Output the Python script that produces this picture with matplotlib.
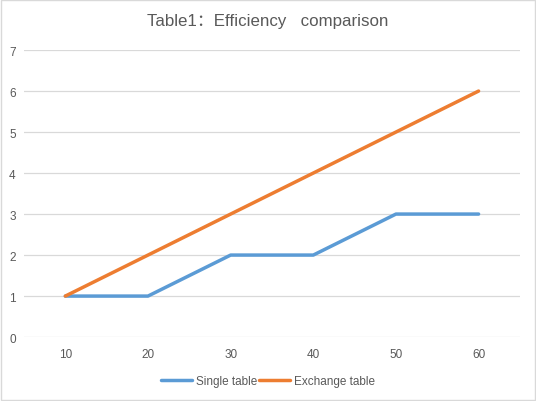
import numpy as np
import matplotlib.pyplot as plt
from matplotlib.patches import Rectangle

plt.rcParams["font.family"] = ["Liberation Sans", "Noto Sans CJK SC", "DejaVu Sans"]

categories = ["10", "20", "30", "40", "50", "60"]
single_table = [1, 1, 2, 2, 3, 3]
exchange_table = [1, 2, 3, 4, 5, 6]

fig = plt.figure(figsize=(5.36, 4.02), dpi=100)
ax = fig.add_axes([0.0448, 0.159, 0.9252, 0.714])

x = np.arange(len(categories))
ax.plot(x, single_table, color="#5B9BD5", lw=2.5, label="Single table", solid_capstyle="round")
ax.plot(x, exchange_table, color="#ED7D31", lw=2.5, label="Exchange table", solid_capstyle="round")

ax.set_xlim(-0.5, len(categories) - 0.5)
ax.set_ylim(0, 7)
ax.set_yticks(range(0, 8))
ax.set_xticks(x)
ax.set_xticklabels(categories)
ax.grid(axis="y", color="#D9D9D9", lw=0.9)
ax.set_axisbelow(True)
for s in ax.spines.values():
    s.set_visible(False)
ax.tick_params(length=0, colors="#595959", labelsize=8.5)
ax.tick_params(axis="y", pad=6)
ax.tick_params(axis="x", pad=8)

fig.suptitle("Table1：Efficiency   comparison", y=0.965, fontsize=12.2, color="#595959")
fig.legend(loc="lower center", bbox_to_anchor=(0.5, 0.008), ncol=2, frameon=False,
           fontsize=8.5, labelcolor="#595959", handlelength=2.6, handletextpad=0.3,
           columnspacing=0.2)

fig.patches.append(Rectangle((0.002, 0.002), 0.996, 0.996, transform=fig.transFigure,
                             fill=False, edgecolor="#D9D9D9", lw=1))

fig.savefig("out.png", dpi=100)
